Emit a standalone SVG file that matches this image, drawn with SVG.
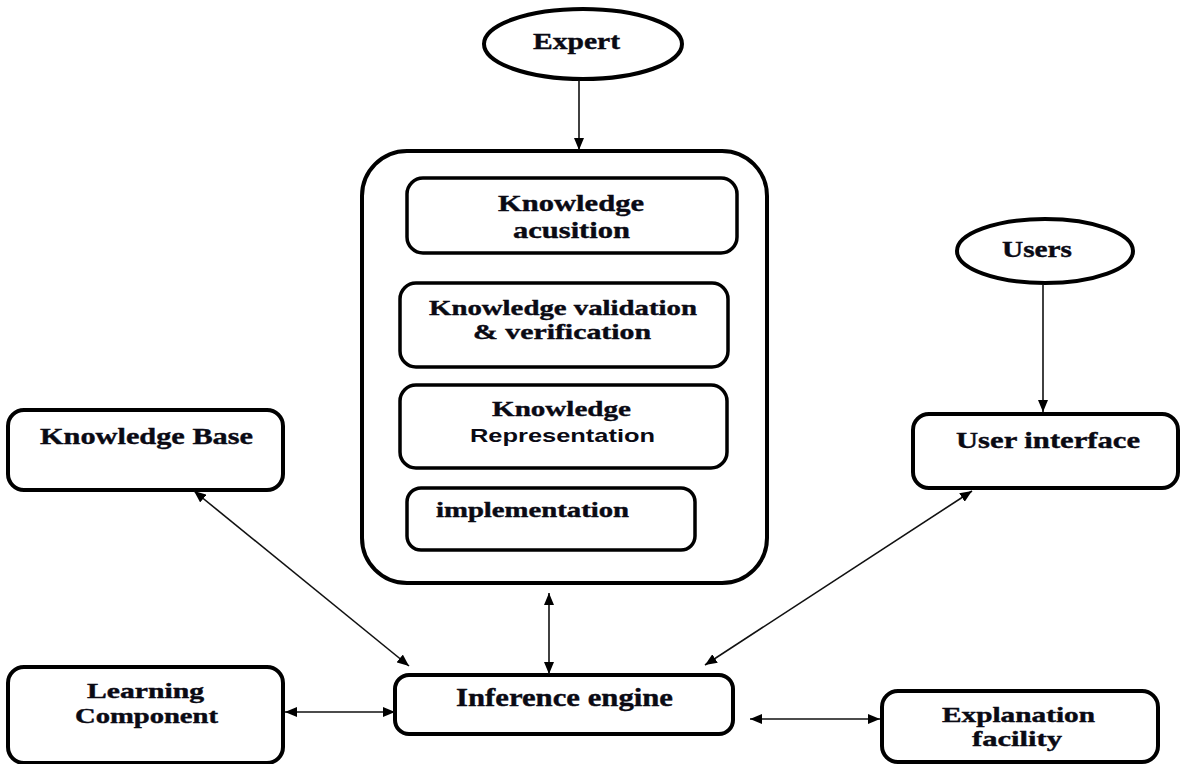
<svg xmlns="http://www.w3.org/2000/svg" width="1181" height="764" viewBox="0 0 1181 764">
  <style>
    .box { fill: #ffffff; stroke: #000000; stroke-width: 4; }
    .inner { fill: #ffffff; stroke: #000000; stroke-width: 3.5; }
    .lbl { font-family: "Liberation Serif", "Times New Roman", serif; font-weight: bold; fill: #0a0a14; stroke: #0a0a14; stroke-width: 0.4; }
    .sans { font-family: "Liberation Sans", Arial, sans-serif; font-weight: bold; fill: #0a0a14; }
    .link { stroke: #111111; stroke-width: 1.6; fill: none; }
  </style>
  <defs>
    <marker id="head" viewBox="0 0 12 10" refX="12" refY="5" markerWidth="12" markerHeight="10" markerUnits="userSpaceOnUse" orient="auto-start-reverse">
      <path d="M0,0 L12,5 L0,10 Z" fill="#000000"/>
    </marker>
  </defs>

  <rect width="1181" height="764" fill="#ffffff"/>

  <!-- sources -->
  <g id="expert">
    <ellipse class="box" cx="583" cy="44" rx="99" ry="35"/>
    <text class="lbl" x="533" y="49" font-size="23" textLength="87" lengthAdjust="spacingAndGlyphs">Expert</text>
  </g>
  <g id="users">
    <ellipse class="box" cx="1045" cy="251" rx="88" ry="32"/>
    <text class="lbl" x="1002" y="257" font-size="24" textLength="70" lengthAdjust="spacingAndGlyphs">Users</text>
  </g>

  <!-- knowledge engineering stack -->
  <g id="engineering">
    <rect class="box" x="362" y="151" width="405" height="432" rx="45"/>
  </g>
  <g id="acquisition">
    <rect class="inner" x="407" y="178" width="330" height="75" rx="16"/>
    <text class="lbl" x="498" y="211" font-size="23" textLength="146" lengthAdjust="spacingAndGlyphs">Knowledge</text>
    <text class="lbl" x="513" y="238" font-size="23" textLength="117" lengthAdjust="spacingAndGlyphs">acusition</text>
  </g>
  <g id="validation">
    <rect class="inner" x="400" y="283" width="328" height="84" rx="16"/>
    <text class="lbl" x="429" y="315" font-size="21" textLength="268" lengthAdjust="spacingAndGlyphs">Knowledge validation</text>
    <text class="lbl" x="473" y="339" font-size="21" textLength="178" lengthAdjust="spacingAndGlyphs">&amp; verification</text>
  </g>
  <g id="representation">
    <rect class="inner" x="400" y="385" width="327" height="83" rx="16"/>
    <text class="lbl" x="492" y="416" font-size="22" textLength="139" lengthAdjust="spacingAndGlyphs">Knowledge</text>
    <text class="sans" x="470" y="442" font-size="19" textLength="185" lengthAdjust="spacingAndGlyphs">Representation</text>
  </g>
  <g id="implementation">
    <rect class="inner" x="407" y="488" width="288" height="62" rx="14"/>
    <text class="lbl" x="436" y="517" font-size="20" textLength="193" lengthAdjust="spacingAndGlyphs">implementation</text>
  </g>

  <!-- surrounding components -->
  <g id="knowledge-base">
    <rect class="box" x="8" y="410" width="275" height="80" rx="16"/>
    <text class="lbl" x="40" y="444" font-size="24" textLength="213" lengthAdjust="spacingAndGlyphs">Knowledge Base</text>
  </g>
  <g id="user-interface">
    <rect class="box" x="913" y="414" width="265" height="74" rx="16"/>
    <text class="lbl" x="956" y="448" font-size="24" textLength="184" lengthAdjust="spacingAndGlyphs">User interface</text>
  </g>
  <g id="learning">
    <rect class="box" x="8" y="667" width="275" height="96" rx="16"/>
    <text class="lbl" x="87" y="698" font-size="20" textLength="117" lengthAdjust="spacingAndGlyphs">Learning</text>
    <text class="lbl" x="75" y="723" font-size="20" textLength="143" lengthAdjust="spacingAndGlyphs">Component</text>
  </g>
  <g id="inference">
    <rect class="box" x="395" y="675" width="338" height="59" rx="14"/>
    <text class="lbl" x="456" y="706" font-size="25" textLength="217" lengthAdjust="spacingAndGlyphs">Inference engine</text>
  </g>
  <g id="explanation">
    <rect class="box" x="882" y="691" width="276" height="71" rx="16"/>
    <text class="lbl" x="942" y="722" font-size="21" textLength="153" lengthAdjust="spacingAndGlyphs">Explanation</text>
    <text class="lbl" x="972" y="746" font-size="21" textLength="90" lengthAdjust="spacingAndGlyphs">facility</text>
  </g>

  <!-- connectors -->
  <g id="connectors">
    <line class="link" x1="579" y1="80" x2="579" y2="150" marker-end="url(#head)"/>
    <line class="link" x1="1043" y1="284" x2="1043" y2="412" marker-end="url(#head)"/>
    <line class="link" x1="194" y1="491" x2="409" y2="666" marker-start="url(#head)" marker-end="url(#head)"/>
    <line class="link" x1="972" y1="491" x2="705" y2="665" marker-start="url(#head)" marker-end="url(#head)"/>
    <line class="link" x1="549" y1="593" x2="549" y2="674" marker-start="url(#head)" marker-end="url(#head)"/>
    <line class="link" x1="285" y1="712" x2="395" y2="712" marker-start="url(#head)" marker-end="url(#head)"/>
    <line class="link" x1="750" y1="719" x2="880" y2="719" marker-start="url(#head)" marker-end="url(#head)"/>
  </g>
</svg>
